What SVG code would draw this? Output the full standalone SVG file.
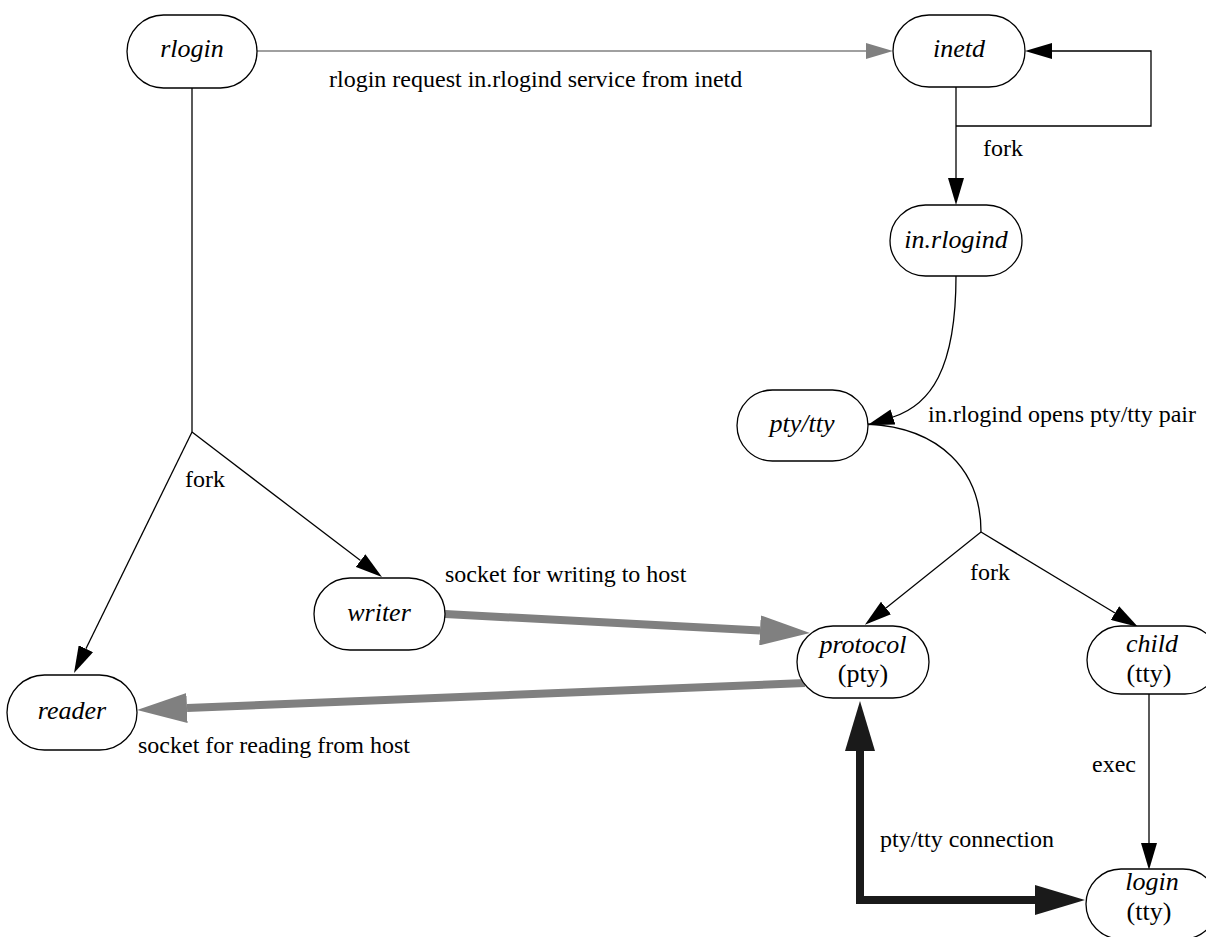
<svg xmlns="http://www.w3.org/2000/svg" width="1206" height="937" viewBox="0 0 1206 937">
<style>
.node rect{fill:#fff;stroke:#000;stroke-width:1.3}
.nt{font-family:"Liberation Serif","Times New Roman",serif;font-size:26px;font-style:italic;fill:#000;text-anchor:middle}
.ns{font-family:"Liberation Serif","Times New Roman",serif;font-size:26px;fill:#000;text-anchor:middle}
.lbl{font-family:"Liberation Serif","Times New Roman",serif;font-size:24px;fill:#000}
.thin{fill:none;stroke:#000;stroke-width:1.3}
.thing{fill:none;stroke:#808080;stroke-width:1.5}
.thickg{fill:none;stroke:#808080;stroke-width:8}
.thickb{fill:none;stroke:#1a1a1a;stroke-width:8;stroke-linejoin:miter}
</style>
<defs>
<marker id="ab" markerUnits="userSpaceOnUse" markerWidth="27" markerHeight="16" viewBox="0 0 27 16" refX="0" refY="8" orient="auto"><path d="M0,0 L27,8 L0,16 z" fill="#000"/></marker>
<marker id="ag" markerUnits="userSpaceOnUse" markerWidth="27" markerHeight="16" viewBox="0 0 27 16" refX="0" refY="8" orient="auto"><path d="M0,0 L27,8 L0,16 z" fill="#808080"/></marker>
<marker id="bg" markerUnits="userSpaceOnUse" markerWidth="50" markerHeight="30" viewBox="0 0 50 30" refX="0" refY="15" orient="auto"><path d="M0,0 L50,15 L0,30 z" fill="#808080"/></marker>
<marker id="bb" markerUnits="userSpaceOnUse" markerWidth="50" markerHeight="30" viewBox="0 0 50 30" refX="0" refY="15" orient="auto-start-reverse"><path d="M0,0 L50,15 L0,30 z" fill="#1a1a1a"/></marker>
</defs>

<g id="connectors">
<path class="thing" d="M257,51 H866" marker-end="url(#ag)"/>
<path class="thin" d="M956,87 V178" marker-end="url(#ab)"/>
<path class="thin" d="M956,126 H1151 V51 H1052" marker-end="url(#ab)"/>
<path class="thin" d="M192,88 V432"/>
<path class="thin" d="M192,432 L360.5,560.6" marker-end="url(#ab)"/>
<path class="thin" d="M192,432 L85.9,648.7" marker-end="url(#ab)"/>
<path class="thin" d="M956,276 C956,370 930,405 893,417" marker-end="url(#ab)"/>
<path class="thin" d="M868,424 C940,428 981,470 981,532"/>
<path class="thin" d="M981,532 L886,608" marker-end="url(#ab)"/>
<path class="thin" d="M981,532 L1115,613" marker-end="url(#ab)"/>
<path class="thin" d="M1149,694 V843" marker-end="url(#ab)"/>
<path class="thickg" d="M445,614 L760,630.4" marker-end="url(#bg)"/>
<path class="thickg" d="M805,683 L187,708" marker-end="url(#bg)"/>
<path class="thickb" d="M860,751 V900 H1035" marker-start="url(#bb)" marker-end="url(#bb)"/>
<text class="lbl" x="329" y="87">rlogin request in.rlogind service from inetd</text>
<text class="lbl" x="983" y="156">fork</text>
<text class="lbl" x="928" y="422">in.rlogind opens pty/tty pair</text>
<text class="lbl" x="185" y="487">fork</text>
<text class="lbl" x="970" y="580">fork</text>
<text class="lbl" x="445" y="582">socket for writing to host</text>
<text class="lbl" x="138" y="753">socket for reading from host</text>
<text class="lbl" x="1092" y="772">exec</text>
<text class="lbl" x="880" y="847">pty/tty connection</text>
</g>

<g id="rlogin" class="node"><rect x="127" y="15" width="130" height="73" rx="36.5"/><text class="nt" x="192" y="57">rlogin</text></g>
<g id="inetd" class="node"><rect x="893" y="15" width="132" height="72" rx="36"/><text class="nt" x="959" y="57">inetd</text></g>
<g id="in.rlogind" class="node"><rect x="890" y="205" width="132" height="71" rx="35.5"/><text class="nt" x="956" y="248">in.rlogind</text></g>
<g id="pty-tty" class="node"><rect x="737" y="390" width="131" height="71" rx="35.5"/><text class="nt" x="802" y="432">pty/tty</text></g>
<g id="writer" class="node"><rect x="314" y="578" width="131" height="72" rx="36"/><text class="nt" x="379" y="621">writer</text></g>
<g id="reader" class="node"><rect x="7" y="675" width="130" height="75" rx="37.5"/><text class="nt" x="72" y="719">reader</text></g>
<g id="protocol" class="node"><rect x="797" y="626" width="132" height="72" rx="36"/><text class="nt" x="863" y="653">protocol</text><text class="ns" x="863" y="682">(pty)</text></g>
<g id="child" class="node"><rect x="1087" y="626" width="132" height="68" rx="34"/><text class="nt" x="1152" y="652">child</text><text class="ns" x="1149" y="682">(tty)</text></g>
<g id="login" class="node"><rect x="1086" y="869" width="132" height="70" rx="35"/><text class="nt" x="1152" y="890">login</text><text class="ns" x="1149" y="920">(tty)</text></g>
</svg>
